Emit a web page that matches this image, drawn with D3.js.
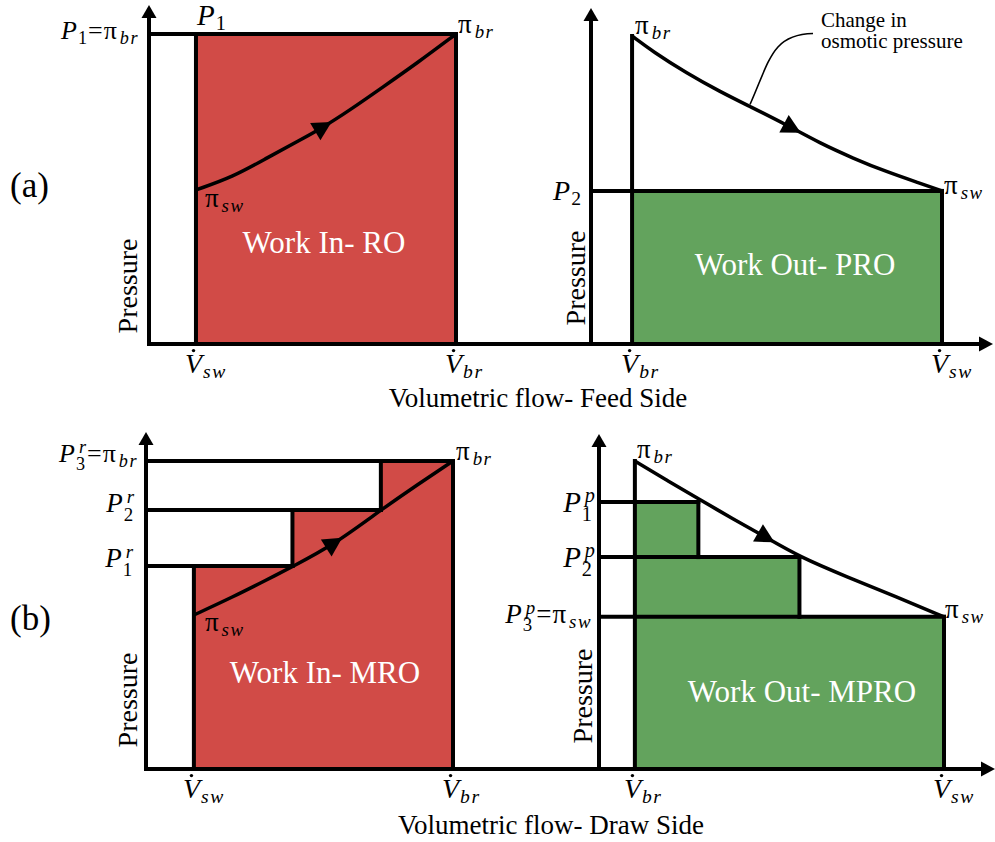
<!DOCTYPE html>
<html>
<head>
<meta charset="utf-8">
<title>RO / PRO work diagrams</title>
<script src="https://cdn.jsdelivr.net/npm/d3@7"></script>
<style>
  *{margin:0;padding:0;}
  body{background:#fff;}
</style>
</head>
<body>
<div id="show"></div>
<script>
// flow positions on the x axis (0 = pressure axis, 10 = end of shaded area)
var roFlow   = [1.53, 10];            // V_sw, V_br
var proFlow  = [1.17, 10];            // V_br, V_sw
var mroFlow  = [1.56, 4.77, 7.65, 10];
var mproFlow = [1.04, 2.88, 5.81, 10];
// pressure of each stage (0 = flow axis, 10 = pi_br)
var roStages   = [10];                // P1 = pi_br
var proStages  = [4.97];              // P2 = pi_sw
var mroStages  = [6.59, 8.41, 10];    // P1r, P2r, P3r
var mproStages = [8.67, 6.88, 4.94];  // P1p, P2p, P3p
// osmotic pressure along the module, [flow, pressure]
var roCurve   = [[1.53,4.97],[2.74,5.39],[3.84,6.0],[4.92,6.58],[5.64,6.97],[6.55,7.55],[7.62,8.29],[8.73,9.06],[10,10]];
var proCurve  = [[1.17,10],[1.77,9.49],[2.73,8.79],[3.68,8.19],[4.53,7.71],[5.58,7.11],[6.52,6.52],[7.47,6.03],[8.42,5.59],[9.37,5.22],[10,4.97]];
var mroCurve  = [[1.56,5.0],[2.84,5.59],[3.93,6.14],[4.77,6.57],[6.1,7.27],[7.65,8.41],[8.82,9.22],[10,10]];
var mproCurve = [[1.04,10],[1.96,9.38],[2.88,8.77],[3.89,8.12],[4.84,7.52],[5.81,6.89],[7.18,6.24],[8.63,5.59],[10,4.94]];
// flow value where the direction arrow sits on each curve
var arrowAt = [5.64, 5.70, 6.09, 4.81];
var titles = ["Work In- RO", "Work Out- PRO", "Work In- MRO", "Work Out- MPRO"];
var flowTicks = [["sw","br"], ["br","sw"], ["sw","br"], ["br","sw"]];
var rowTitles = ["Volumetric flow- Feed Side", "Volumetric flow- Draw Side"];
var rowTags = ["(a)", "(b)"];

var red = "#d14b47", green = "#63a35d";
var FONT = "'Liberation Serif'";

var svg = d3.select("#show").append("svg")
            .attr("width", 995)
            .attr("height", 842);

function txt(parent){ return parent.append("text").attr("font-family", FONT); }

// pixel frame of each panel
var panels = [
  {flow:roFlow,   stages:roStages,   curve:roCurve,   fill:red,   ax:149, right:456, base:344, top:34,  tip:5,
   title:[324,253], pres:[137,286]},
  {flow:proFlow,  stages:proStages,  curve:proCurve,  fill:green, ax:591, right:942, base:344, top:36,  tip:8,
   title:[795,275], pres:[585,278]},
  {flow:mroFlow,  stages:mroStages,  curve:mroCurve,  fill:red,   ax:146, right:453, base:769, top:461, tip:432,
   title:[325,683], pres:[137,700]},
  {flow:mproFlow, stages:mproStages, curve:mproCurve, fill:green, ax:599, right:944, base:769, top:461, tip:434,
   title:[802,702], pres:[592,696]}
];
var rows = [{y:344, x0:147, x1:993, title:[538,407], tag:[10,197]},
            {y:769, x0:144, x1:995, title:[551,834], tag:[10,630]}];

// text with sub/superscripts laid out piece by piece
function mathLabel(x, y, tokens, size, anchor){
  var g = svg.append("g");
  var cx = 0;
  tokens.forEach(function(tk){
    if(tk.s !== undefined){
      var t = txt(g).attr("x", cx).attr("y", 0)
               .attr("font-size", size)
               .attr("font-style", tk.it ? "italic" : "normal")
               .text(tk.s);
      var w = t.node().getComputedTextLength();
      if(tk.dot){
        g.append("circle").attr("cx", cx + w*0.5).attr("cy", -size*0.8).attr("r", 1.7);
      }
      cx += w + (tk.gap||0);
    }else{
      var w2 = 0, ss = size*0.7;
      if(tk.sup){
        var a = txt(g).attr("x", cx + (tk.supdx||0)).attr("y", -size*0.34)
                 .attr("font-size", ss).attr("font-style", "italic")
                 .text(tk.sup);
        w2 = Math.max(w2, a.node().getComputedTextLength() + (tk.supdx||0));
      }
      if(tk.sub){
        var num = /[0-9]/.test(tk.sub);
        var b = txt(g).attr("x", cx).attr("y", size*(tk.sup ? 0.32 : 0.18))
                 .attr("font-size", ss).attr("font-style", num ? "normal" : "italic")
                 .attr("letter-spacing", num ? 0 : 1.5)
                 .text(tk.sub);
        w2 = Math.max(w2, b.node().getComputedTextLength());
      }
      cx += w2 + 1;
    }
  });
  var dx = anchor === "end" ? -cx : 0;
  g.attr("transform", "translate(" + (x + dx) + "," + y + ")");
  return g;
}

function P(sub, sup){ return [{s:"P", it:true, gap:1}, {sub:sub, sup:sup, supdx:3}]; }
function PI(sub){ return [{s:"\u03c0", gap:3}, {sub:sub}]; }
var EQ = [{s:"=", gap:1}];

var line = d3.line().curve(d3.curveBasis);

panels.forEach(function(p, k){
  var x = d3.scaleLinear().domain([0, 10]).range([p.ax, p.right]);
  var y = d3.scaleLinear().domain([0, 10]).range([p.base, p.top]);
  p.x = x; p.y = y;
  var f = p.flow, s = p.stages, n = s.length;

  // shaded work area (stair shape)
  var poly = [[f[0], 0]];
  for(var i = 0; i < n; i++){ poly.push([f[i], s[i]]); poly.push([f[i+1], s[i]]); }
  poly.push([f[n], 0]);
  svg.append("path")
     .attr("d", d3.line()(poly.map(function(d){ return [x(d[0]), y(d[1])]; })) + "Z")
     .attr("fill", p.fill);

  // stage lines
  var segs = [];
  for(i = 0; i < n; i++) segs.push([[0, s[i]], [f[i+1], s[i]]]);
  segs.push([[f[0], Math.max(s[0], p.curve[0][1])], [f[0], 0]]);
  for(i = 1; i < n; i++) segs.push([[f[i], s[i-1]], [f[i], s[i]]]);
  segs.push([[f[n], s[n-1]], [f[n], 0]]);
  svg.selectAll(null).data(segs).enter().append("line")
     .attr("x1", function(d){ return x(d[0][0]); })
     .attr("y1", function(d){ return y(d[0][1]); })
     .attr("x2", function(d){ return x(d[1][0]); })
     .attr("y2", function(d){ return y(d[1][1]); })
     .attr("stroke", "#000").attr("stroke-width", 4).attr("stroke-linecap", "square");

  // osmotic pressure curve
  var cp = svg.append("path")
     .attr("d", line(p.curve.map(function(d){ return [x(d[0]), y(d[1])]; })))
     .attr("fill", "none").attr("stroke", "#000").attr("stroke-width", 3.5);

  // direction arrow on the curve
  var node = cp.node(), L = node.getTotalLength(), lo = 0, hi = L, tx = x(arrowAt[k]);
  for(var it = 0; it < 40; it++){
    var mid = (lo + hi) / 2;
    if(node.getPointAtLength(mid).x < tx) lo = mid; else hi = mid;
  }
  var pa = node.getPointAtLength(lo - 3), pb = node.getPointAtLength(lo + 3), pc = node.getPointAtLength(lo);
  var ang = Math.atan2(pb.y - pa.y, pb.x - pa.x) * 180 / Math.PI;
  svg.append("path").attr("d", "M11,0L-8,-10L-8,10Z")
     .attr("transform", "translate(" + pc.x + "," + pc.y + ") rotate(" + ang + ")")
     .attr("fill", "#000");

  // pressure axis with arrow
  svg.append("line").attr("x1", p.ax).attr("x2", p.ax).attr("y1", p.base + 2).attr("y2", p.tip + 10)
     .attr("stroke", "#000").attr("stroke-width", 4);
  svg.append("path").attr("d", "M" + p.ax + "," + p.tip + "l-7.5,13h15z").attr("fill", "#000");

  // area title
  txt(svg).attr("x", p.title[0]).attr("y", p.title[1])
     .attr("text-anchor", "middle").attr("font-size", 31).attr("fill", "#fff")
     .text(titles[k]);

  // Pressure label
  txt(svg).attr("transform", "translate(" + p.pres[0] + "," + p.pres[1] + ") rotate(-90)")
     .attr("text-anchor", "middle").attr("font-size", 28).text("Pressure");

  // flow tick labels
  [f[0], f[n]].forEach(function(v, j){
    mathLabel(x(v) - 11, p.base + 29, [{s:"V", it:true, dot:true, gap:1}, {sub:flowTicks[k][j]}], 28);
  });
});

// flow axes with arrows
rows.forEach(function(r, k){
  svg.append("line").attr("x1", r.x0).attr("x2", r.x1 - 10).attr("y1", r.y).attr("y2", r.y)
     .attr("stroke", "#000").attr("stroke-width", 4);
  svg.append("path").attr("d", "M" + r.x1 + "," + r.y + "l-14,-7.5v15z").attr("fill", "#000");
  txt(svg).attr("x", r.title[0]).attr("y", r.title[1]).attr("text-anchor", "middle")
     .attr("font-size", 27).text(rowTitles[k]);
  txt(svg).attr("x", r.tag[0]).attr("y", r.tag[1]).attr("font-size", 35).text(rowTags[k]);
});

var a = panels[0], b = panels[1], c = panels[2], d = panels[3];

// panel (a) left
mathLabel(a.ax - 9, a.y(roStages[0]) + 5, P("1").concat(EQ, PI("br")), 26, "end");
mathLabel(a.x(roFlow[0]) + 1, a.y(roStages[0]) - 9, P("1"), 29);
mathLabel(a.x(10) + 2, a.y(10) - 1, PI("br"), 27);
mathLabel(a.x(roCurve[0][0]) + 9, a.y(roCurve[0][1]) + 17, PI("sw"), 27);

// panel (a) right
mathLabel(b.ax - 9, b.y(proStages[0]) + 9, P("2"), 28, "end");
mathLabel(b.x(proFlow[0]) + 3, b.y(10) - 2, PI("br"), 27);
mathLabel(b.x(10) + 2, b.y(proStages[0]) + 3, PI("sw"), 27);

// change in osmotic pressure note
var lx = b.x(4.53), ly = b.y(7.71) - 2;
svg.append("path").attr("d", "M" + lx + "," + ly + "C" + (lx + 20) + "," + (ly - 45) + " " + (lx + 22) + "," + (ly - 70) + " " + (lx + 63) + "," + (ly - 71))
   .attr("fill", "none").attr("stroke", "#000").attr("stroke-width", 1.6);
txt(svg).attr("x", 821).attr("y", 27).attr("font-size", 21).text("Change in");
txt(svg).attr("x", 821).attr("y", 48).attr("font-size", 21).text("osmotic pressure");

// panel (b) left
mathLabel(c.ax - 7, c.y(mroStages[2]) + 1, P("3", "r").concat(EQ, PI("br")), 26, "end");
mathLabel(c.ax - 11, c.y(mroStages[1]) + 2, P("2", "r"), 27, "end");
mathLabel(c.ax - 12, c.y(mroStages[0]) + 1, P("1", "r"), 27, "end");
mathLabel(c.x(10) + 3, c.y(10) - 1, PI("br"), 27);
mathLabel(c.x(mroCurve[0][0]) + 11, c.y(mroCurve[0][1]) + 16, PI("sw"), 27);

// panel (b) right
mathLabel(d.ax - 3, d.y(mproStages[0]) + 10, P("1", "p"), 29, "end");
mathLabel(d.ax - 3, d.y(mproStages[1]) + 10, P("2", "p"), 29, "end");
mathLabel(d.ax - 6, d.y(mproStages[2]) + 6, P("3", "p").concat(EQ, PI("sw")), 27, "end");
mathLabel(d.x(mproFlow[0]) + 2, d.y(10) - 3, PI("br"), 27);
mathLabel(d.x(10) + 1, d.y(mproStages[2]) + 1, PI("sw"), 27);
</script>
</body>
</html>
